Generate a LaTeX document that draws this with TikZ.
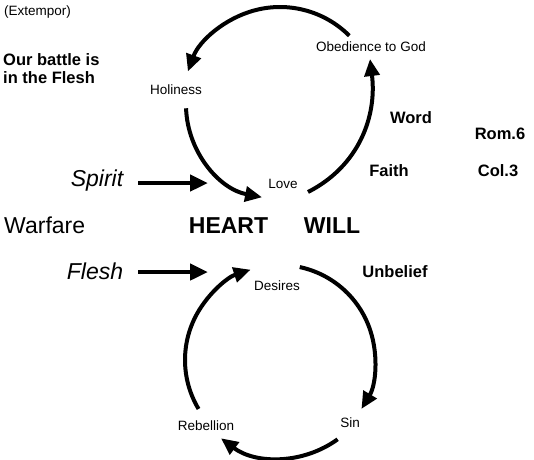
\documentclass[tikz,border=0pt]{standalone}
\usepackage{fontspec}
\setmainfont{Liberation Sans}
\usetikzlibrary{arrows.meta,calc}
\begin{document}
\begin{tikzpicture}[x=1pt,y=1pt,
  small/.style={font=\fontsize{13.5}{16}\selectfont, inner sep=0pt, anchor=base},
  boldlbl/.style={font=\fontsize{16.5}{19}\selectfont\bfseries, inner sep=0pt, anchor=base},
  big/.style={font=\fontsize{23}{27}\selectfont, inner sep=0pt, anchor=base},
  bigbold/.style={font=\fontsize{23}{27}\selectfont\bfseries, inner sep=0pt, anchor=base},
  bigit/.style={font=\fontsize{23}{27}\selectfont\itshape, inner sep=0pt, anchor=base},
  cyc/.style={line width=4pt, -{Triangle[length=17pt,width=15pt]}},
  push/.style={line width=4.5pt, -{Triangle[length=18pt,width=16pt]}}
]
\path[use as bounding box, fill=white] (0,0) rectangle (534,-459);

% texts
\node[small, anchor=base west] (ext) at (4,-15) {(Extempor)};
\node[boldlbl, anchor=base west] (ob1) at (3,-65) {Our battle is};
\node[boldlbl, anchor=base west] (ob2) at (3,-83) {in the Flesh};
\node[small] (hol) at (176,-94) {Holiness};
\node[small] (obe) at (371,-51) {Obedience to God};
\node[boldlbl] (word) at (411,-123) {Word};
\node[boldlbl] (rom) at (500,-139) {Rom.6};
\node[boldlbl] (faith) at (389,-176) {Faith};
\node[boldlbl] (col) at (498,-176) {Col.3};
\node[small] (love) at (283,-188) {Love};
\node[bigit] (spirit) at (97,-186) {Spirit};
\node[big, anchor=base west] (war) at (4,-233) {Warfare};
\node[bigbold] (heart) at (228.5,-233) {HEART};
\node[bigbold] (will) at (332,-233) {WILL};
\node[bigit] (flesh) at (95,-279) {Flesh};
\node[boldlbl] (unb) at (395,-277) {Unbelief};
\node[small] (des) at (277,-290) {Desires};
\node[small] (sin) at (350,-427) {Sin};
\node[small] (reb) at (206,-430) {Rebellion};

% Spirit / Flesh arrows
\coordinate (sp-s) at (138,-183);
\coordinate (sp-e) at (208,-183);
\coordinate (fl-s) at (138,-272);
\coordinate (fl-e) at (208,-272);
\draw[push] (sp-s) -- (sp-e);
\draw[push] (fl-s) -- (fl-e);

% upper cycle
\coordinate (c1) at (280,-105);
\coordinate (t-s) at ($(c1)+(45:98)$);
\coordinate (l-s) at ($(c1)+(182:94)$);
\coordinate (r-s) at (308,-192);
\coordinate (r-e) at (370,-59);
\draw[cyc] (t-s) arc[start angle=45, end angle=160, radius=98];
\draw[cyc] (l-s) arc[start angle=182, end angle=259, radius=94];
\draw[cyc] (r-s) to[out=27, in=-83] (r-e);

% lower cycle
\coordinate (c2) at (280,-360);
\coordinate (br-s) at ($(c2)+(78:95)$);
\coordinate (bb-s) at ($(c2)+(-54:98)$);
\coordinate (bl-s) at ($(c2)+(211:95)$);
\draw[cyc] (br-s) arc[start angle=78, end angle=-31, radius=95];
\draw[cyc] (bb-s) arc[start angle=-54, end angle=-127, radius=98];
\draw[cyc] (bl-s) arc[start angle=211, end angle=108, radius=95];
\end{tikzpicture}
\end{document}
